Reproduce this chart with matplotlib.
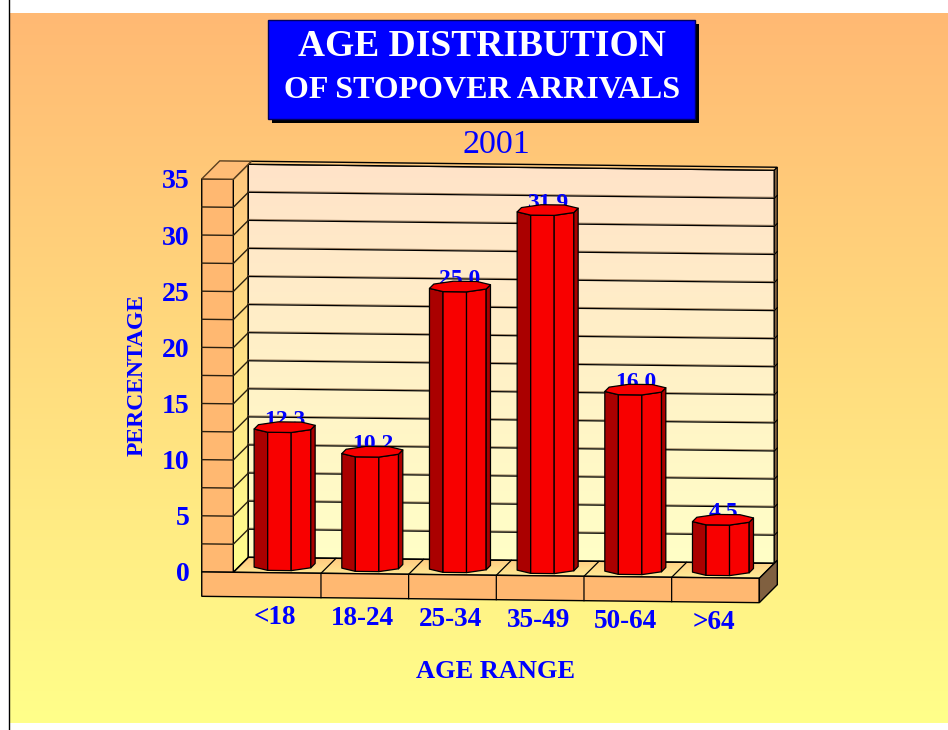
import numpy as np
import matplotlib
matplotlib.use('Agg')
import matplotlib.pyplot as plt
from matplotlib.patches import Polygon, Rectangle

plt.rcParams['font.family'] = ['Liberation Serif', 'DejaVu Serif']

# =========================
# DATA
# =========================
categories = ['<18', '18-24', '25-34', '35-49', '50-64', '>64']
percentages = [12.3, 10.2, 25.0, 31.9, 16.0, 4.5]
y_ticks = [0, 5, 10, 15, 20, 25, 30, 35]
y_max = 35
grid_step = 2.5

BLUE = '#0000FF'
RED = '#F80000'
DARK_RED = '#AA0000'
ORANGE = '#FFB871'
BROWN = '#806040'

fig = plt.figure(figsize=(9.48, 7.3), dpi=100)
ax = fig.add_axes([0, 0, 1, 1])
ax.set_xlim(0, 948)
ax.set_ylim(730, 0)
ax.axis('off')


# oblique projection: u = category axis, d = depth (1 = back wall), v = value
def proj(u, d, v):
    x = 233.3 + 87.67 * u + 15 * d
    y = 572.3 + 1.0 * u - 15 * d - 11.23 * v
    return x, y


def poly(points, **kw):
    p = Polygon(points, closed=True, **kw)
    ax.add_patch(p)
    return p


def gradient(points, top, bottom, z, extent=None):
    # vertical gradient clipped to a polygon
    pts = np.array(points)
    if extent is None:
        extent = [pts[:, 0].min(), pts[:, 0].max(), pts[:, 1].max(), pts[:, 1].min()]
    c0 = np.array(matplotlib.colors.to_rgb(top))
    c1 = np.array(matplotlib.colors.to_rgb(bottom))
    t = np.linspace(0, 1, 256)[:, None, None]
    img = c0[None, None, :] * (1 - t) + c1[None, None, :] * t
    im = ax.imshow(img, extent=extent, aspect='auto', zorder=z, interpolation='bilinear')
    clip = Polygon(points, closed=True, transform=ax.transData, facecolor='none', edgecolor='none')
    ax.add_patch(clip)
    im.set_clip_path(clip)


# =========================
# BACKGROUND
# =========================
gradient([(10, 13), (948, 13), (948, 723), (10, 723)], '#FFB973', '#FFFF8A', 0)
ax.plot([9.5, 9.5], [0, 730], color='black', lw=1.0, zorder=1)

# =========================
# WALLS AND FLOOR
# =========================
wall_d = 1.2
left_u = -0.36
n = len(categories)

# back wall
back = [proj(0, 1, y_max), proj(n, 1, y_max), proj(n, 1, 0), proj(0, 1, 0)]
gradient(back, '#FFE3C9', '#FFFFC6', 2)
poly(back, facecolor='none', edgecolor='black', lw=1.0, zorder=3)

# thin strip along top and right of the back wall
poly([proj(0, 1, y_max), proj(0, wall_d, y_max), proj(n, wall_d, y_max), proj(n, 1, y_max)],
     facecolor='#FFCB80', edgecolor='black', lw=1.0, zorder=3)
poly([proj(n, 1, y_max), proj(n, wall_d, y_max), proj(n, wall_d, 0), proj(n, 1, 0)],
     facecolor=BROWN, edgecolor='black', lw=0.8, zorder=3)

# left wall: side panel, front column, cap
side = [proj(0, 0, y_max), proj(0, 1, y_max), proj(0, 1, 0), proj(0, 0, 0)]
gradient(side, '#FFC77E', '#FFFF8E', 2)
poly(side, facecolor='none', edgecolor='black', lw=1.0, zorder=3)
poly([proj(left_u, 0, y_max), proj(0, 0, y_max), proj(0, 0, 0), proj(left_u, 0, 0)],
     facecolor=ORANGE, edgecolor='black', lw=1.0, zorder=3)
poly([proj(left_u, 0, y_max), proj(left_u, wall_d, y_max), proj(0, wall_d, y_max), proj(0, 0, y_max)],
     facecolor='#FFBD76', edgecolor='#5A4020', lw=1.0, zorder=3)

# grid lines every 2.5, with the brownish shadow line above them
for v in np.arange(grid_step, y_max, grid_step):
    x0, y0 = proj(0, 1, v)
    x1, y1 = proj(n, 1, v)
    ax.plot([x0, x1], [y0 - 1, y1 - 1], color=BROWN, lw=0.8, alpha=0.7, zorder=3)
    ax.plot([x0, x1], [y0, y1], color='black', lw=0.9, zorder=3)
    xs, ys = zip(proj(left_u, 0, v), proj(0, 0, v), proj(0, 1, v))
    ax.plot(xs, ys, color='#2A2010', lw=1.0, zorder=3)
    xs, ys = zip(proj(n, 1, v), proj(n, wall_d, v))
    ax.plot(xs, ys, color='black', lw=0.8, zorder=3)

# floor
floor_v = -2.17
floor_top = [proj(0, 0, 0), proj(0, 1, 0), proj(n, 1, 0), proj(n, 0, 0)]
gradient(floor_top, '#FFC77E', '#FFEE98', 2)
poly(floor_top, facecolor='none', edgecolor='black', lw=1.0, zorder=3)
poly([proj(left_u, 0, 0), proj(n, 0, 0), proj(n, 0, floor_v), proj(left_u, 0, floor_v)],
     facecolor=ORANGE, edgecolor='black', lw=1.0, zorder=3)
poly([proj(n, 0, 0), proj(n, wall_d, 0), proj(n, wall_d, floor_v), proj(n, 0, floor_v)],
     facecolor=BROWN, edgecolor='black', lw=1.0, zorder=3)
for i in range(1, n):
    xs, ys = zip(proj(i, 0, floor_v), proj(i, 0, 0), proj(i, 1, 0))
    ax.plot(xs, ys, color='black', lw=0.9, zorder=3)

# =========================
# BARS (octagonal prisms)
# =========================
angles = np.radians(22.5 + 45 * np.arange(8))
r_u, r_d = 0.35, 0.375


def ring(i, v):
    return [proj(i + 0.5 + r_u * np.cos(a), 0.5 + r_d * np.sin(a), v) for a in angles]


for i, val in enumerate(percentages):
    bottom = ring(i, 0)
    top = ring(i, val)
    # label goes under the bar top, the picture clips it the same way
    cx, cy = proj(i + 0.5, 0.5, val)
    ax.text(cx, cy - 1.5, f'{val:.1f}', color=BLUE, fontsize=17, fontweight='bold',
            ha='center', va='baseline', zorder=5)
    # visible facets: vertex index 4 -> 5 -> 6 -> 7 -> 0
    order = [4, 5, 6, 7, 0]
    shades = [DARK_RED, RED, RED, DARK_RED]
    for k in range(4):
        a, b = order[k], order[k + 1]
        poly([top[a], top[b], bottom[b], bottom[a]], facecolor=shades[k],
             edgecolor='black', lw=0.9, zorder=6, joinstyle='round')
    poly(top, facecolor=RED, edgecolor='black', lw=0.9, zorder=7, joinstyle='round')

# =========================
# TEXT
# =========================
for t in y_ticks:
    x, y = proj(left_u, 0, t)
    ax.text(x - 12, y, str(t), color=BLUE, fontsize=20, fontweight='bold',
            ha='right', va='center_baseline', zorder=8)

for i, c in enumerate(categories):
    x, y = proj(i + 0.5, 0, 0)
    ax.text(x - 2, y + 42, c, color=BLUE, fontsize=19.5, fontweight='bold',
            ha='center', va='center_baseline', zorder=8)

ax.text(137, 375, 'PERCENTAGE', color=BLUE, fontsize=17, fontweight='bold', rotation=90,
        ha='center', va='center', zorder=8)
ax.text(496, 671, 'AGE RANGE', color=BLUE, fontsize=19, fontweight='bold',
        ha='center', va='center', zorder=8)

# title box
ax.add_patch(Rectangle((272.5, 24), 427, 99, facecolor='black', edgecolor='none', zorder=8))
ax.add_patch(Rectangle((268.5, 20), 427, 99, facecolor=BLUE, edgecolor='#000060', lw=1.0, zorder=9))
ax.text(482, 47, 'AGE DISTRIBUTION', color='white', fontsize=27, fontweight='bold',
        ha='center', va='center', zorder=10)
ax.text(482.5, 90, 'OF STOPOVER ARRIVALS', color='white', fontsize=23, fontweight='bold',
        ha='center', va='center', zorder=10)
ax.text(496, 145, '2001', color=BLUE, fontsize=24.5, ha='center', va='center', zorder=10)

ax.set_xlim(0, 948)
ax.set_ylim(730, 0)
fig.savefig('out.png', dpi=100)
